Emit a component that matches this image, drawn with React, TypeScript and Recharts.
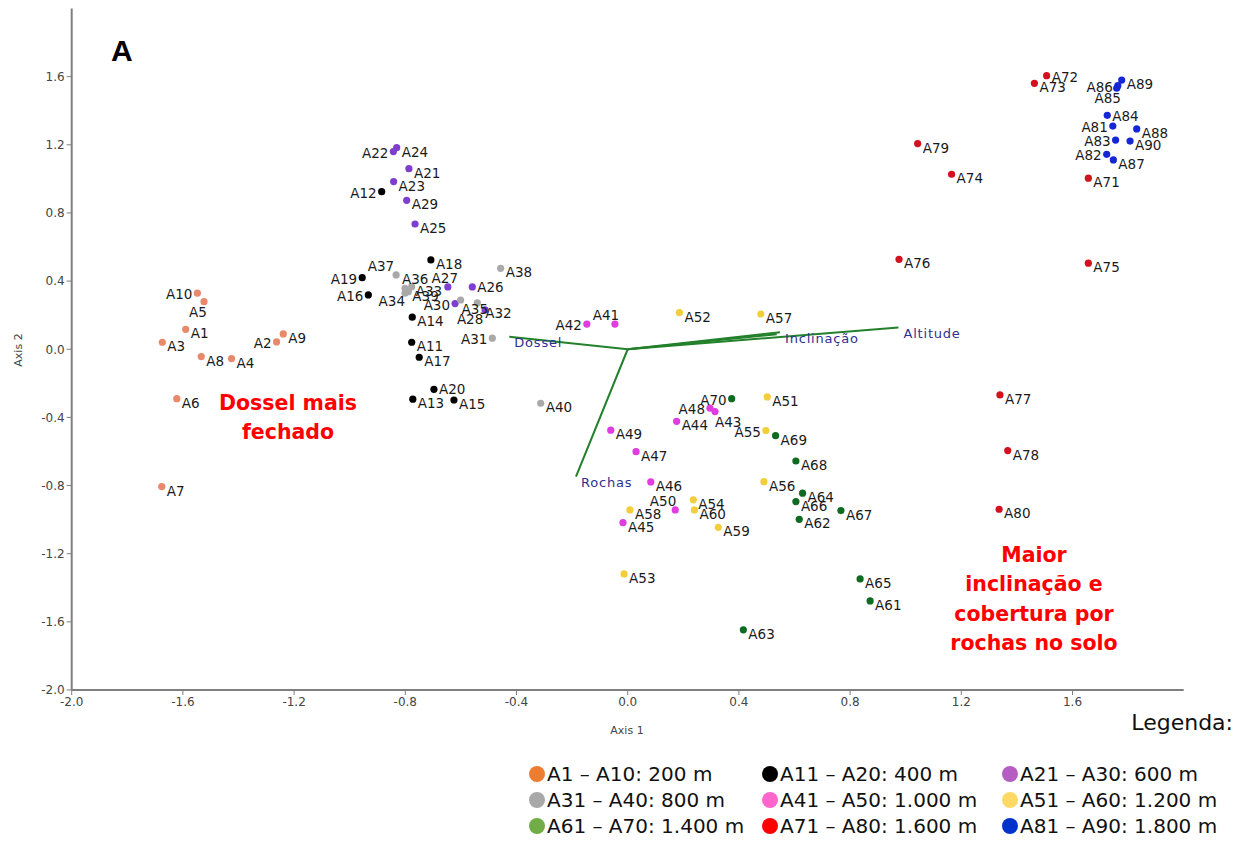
import React from 'react';
import { ScatterChart, Scatter, XAxis, YAxis, ReferenceLine } from 'recharts';

type Pt = { id: string; x: number; y: number };

const xTicks = [-2.0, -1.6, -1.2, -0.8, -0.4, 0.0, 0.4, 0.8, 1.2, 1.6];
const yTicks = [-2.0, -1.6, -1.2, -0.8, -0.4, 0.0, 0.4, 0.8, 1.2, 1.6];

const alt200: Pt[] = [
  { id: 'A1', x: -1.590, y: 0.117 }, { id: 'A2', x: -1.263, y: 0.043 },
  { id: 'A3', x: -1.674, y: 0.041 }, { id: 'A4', x: -1.425, y: -0.055 },
  { id: 'A5', x: -1.524, y: 0.279 }, { id: 'A6', x: -1.622, y: -0.290 },
  { id: 'A7', x: -1.676, y: -0.806 }, { id: 'A8', x: -1.534, y: -0.043 },
  { id: 'A9', x: -1.239, y: 0.090 }, { id: 'A10', x: -1.548, y: 0.329 },
];
const alt400: Pt[] = [
  { id: 'A11', x: -0.777, y: 0.041 }, { id: 'A12', x: -0.885, y: 0.925 },
  { id: 'A13', x: -0.773, y: -0.293 }, { id: 'A14', x: -0.775, y: 0.188 },
  { id: 'A15', x: -0.625, y: -0.298 }, { id: 'A16', x: -0.933, y: 0.319 },
  { id: 'A17', x: -0.750, y: -0.047 }, { id: 'A18', x: -0.708, y: 0.524 },
  { id: 'A19', x: -0.955, y: 0.420 }, { id: 'A20', x: -0.697, y: -0.235 },
];
const alt600: Pt[] = [
  { id: 'A21', x: -0.787, y: 1.060 }, { id: 'A22', x: -0.843, y: 1.160 },
  { id: 'A23', x: -0.842, y: 0.984 }, { id: 'A24', x: -0.831, y: 1.183 },
  { id: 'A25', x: -0.765, y: 0.735 }, { id: 'A26', x: -0.559, y: 0.366 },
  { id: 'A27', x: -0.647, y: 0.366 }, { id: 'A28', x: -0.513, y: 0.231 },
  { id: 'A29', x: -0.795, y: 0.874 }, { id: 'A30', x: -0.621, y: 0.268 },
];
const alt800: Pt[] = [
  { id: 'A31', x: -0.487, y: 0.065 }, { id: 'A32', x: -0.541, y: 0.273 },
  { id: 'A33', x: -0.777, y: 0.367 }, { id: 'A34', x: -0.801, y: 0.329 },
  { id: 'A35', x: -0.601, y: 0.289 }, { id: 'A36', x: -0.801, y: 0.358 },
  { id: 'A37', x: -0.833, y: 0.436 }, { id: 'A38', x: -0.457, y: 0.475 },
  { id: 'A39', x: -0.789, y: 0.338 }, { id: 'A40', x: -0.313, y: -0.317 },
];
const alt1000: Pt[] = [
  { id: 'A41', x: -0.046, y: 0.148 }, { id: 'A42', x: -0.147, y: 0.148 },
  { id: 'A43', x: 0.314, y: -0.366 }, { id: 'A44', x: 0.176, y: -0.423 },
  { id: 'A45', x: -0.017, y: -1.018 }, { id: 'A46', x: 0.083, y: -0.779 },
  { id: 'A47', x: 0.030, y: -0.601 }, { id: 'A48', x: 0.296, y: -0.346 },
  { id: 'A49', x: -0.061, y: -0.475 }, { id: 'A50', x: 0.171, y: -0.943 },
];
const alt1200: Pt[] = [
  { id: 'A51', x: 0.502, y: -0.280 }, { id: 'A52', x: 0.186, y: 0.215 },
  { id: 'A53', x: -0.013, y: -1.319 }, { id: 'A54', x: 0.236, y: -0.884 },
  { id: 'A55', x: 0.497, y: -0.477 }, { id: 'A56', x: 0.490, y: -0.777 },
  { id: 'A57', x: 0.479, y: 0.207 }, { id: 'A58', x: 0.008, y: -0.943 },
  { id: 'A59', x: 0.326, y: -1.045 }, { id: 'A60', x: 0.240, y: -0.943 },
];
const alt1400: Pt[] = [
  { id: 'A61', x: 0.872, y: -1.477 }, { id: 'A62', x: 0.617, y: -0.998 },
  { id: 'A63', x: 0.416, y: -1.647 }, { id: 'A64', x: 0.629, y: -0.845 },
  { id: 'A65', x: 0.836, y: -1.348 }, { id: 'A66', x: 0.605, y: -0.894 },
  { id: 'A67', x: 0.767, y: -0.947 }, { id: 'A68', x: 0.605, y: -0.656 },
  { id: 'A69', x: 0.532, y: -0.507 }, { id: 'A70', x: 0.374, y: -0.290 },
];
const alt1600: Pt[] = [
  { id: 'A71', x: 1.657, y: 1.004 }, { id: 'A72', x: 1.507, y: 1.606 },
  { id: 'A73', x: 1.463, y: 1.561 }, { id: 'A74', x: 1.165, y: 1.027 },
  { id: 'A75', x: 1.657, y: 0.505 }, { id: 'A76', x: 0.976, y: 0.528 },
  { id: 'A77', x: 1.339, y: -0.268 }, { id: 'A78', x: 1.367, y: -0.595 },
  { id: 'A79', x: 1.043, y: 1.207 }, { id: 'A80', x: 1.336, y: -0.939 },
];
const alt1800: Pt[] = [
  { id: 'A81', x: 1.745, y: 1.310 }, { id: 'A82', x: 1.723, y: 1.144 },
  { id: 'A83', x: 1.755, y: 1.228 }, { id: 'A84', x: 1.725, y: 1.373 },
  { id: 'A85', x: 1.759, y: 1.532 }, { id: 'A86', x: 1.763, y: 1.547 },
  { id: 'A87', x: 1.747, y: 1.111 }, { id: 'A88', x: 1.831, y: 1.293 },
  { id: 'A89', x: 1.777, y: 1.580 }, { id: 'A90', x: 1.807, y: 1.222 },
];

const vectors = [
  { id: 'Dossel', x: -0.426, y: 0.074 },
  { id: 'Rochas', x: -0.186, y: -0.748 },
  { id: 'Inclinação', x: 0.548, y: 0.100 },
  { id: '', x: 0.536, y: 0.088 },
  { id: 'Altitude', x: 0.974, y: 0.127 },
];

const legendLabels = [
  'A1 – A10: 200 m', 'A11 – A20: 400 m', 'A21 – A30: 600 m',
  'A31 – A40: 800 m', 'A41 – A50: 1.000 m', 'A51 – A60: 1.200 m',
  'A61 – A70: 1.400 m', 'A71 – A80: 1.600 m', 'A81 – A90: 1.800 m',
];

const pointColors = ['#E8896B', '#000000', '#7E3FCF', '#A9A9A9', '#E03CE0', '#F2CF3A', '#0F6B22', '#D3121F', '#1426D6'];
const legendColors = ['#ED7D31', '#000000', '#B55DC3', '#A8A8A8', '#FF66CC', '#FFD966', '#70AD47', '#FF0000', '#0033CC'];
const groups = [alt200, alt400, alt600, alt800, alt1000, alt1200, alt1400, alt1600, alt1800];

// label placement (layout only)
const leftLabels = ['A10', 'A2', 'A12', 'A19', 'A16', 'A22', 'A30', 'A31', 'A42', 'A48', 'A70', 'A55', 'A86', 'A81', 'A83', 'A82'];
const specialLabels: Record<string, [number, number, 'start' | 'middle' | 'end']> = {
  A5: [-6, 10, 'middle'], A27: [-3, -9, 'middle'], A37: [-2, -9, 'end'], A36: [-3, -9, 'start'],
  A34: [0, 8, 'end'], A28: [-15, 9, 'middle'], A35: [1, 9, 'start'], A32: [8, 10, 'start'],
  A41: [-9, -9, 'middle'], A43: [0, 10, 'start'], A50: [1, -9, 'end'], A85: [-9, 10, 'middle'],
  A20: [5, 0, 'start'], A26: [5, 0, 'start'], A33: [4, 4, 'start'], A39: [4, 4, 'start'],
  A72: [5, 1, 'start'], A84: [5, 1, 'start'],
};

const FONT = 'DejaVu Sans, sans-serif';

const placement = (id: string): [number, number, 'start' | 'middle' | 'end'] => {
  if (specialLabels[id]) return specialLabels[id];
  if (leftLabels.includes(id)) return [-5, 1, 'end'];
  return [5, 4, 'start'];
};

const makeShape = (color: string) => (props: any) => {
  const { cx, cy, payload } = props;
  const [dx, dy, anchor] = placement(payload.id);
  return (
    <g>
      <circle cx={cx} cy={cy} r={3.6} fill={color} />
      <text x={cx + dx} y={cy + dy} textAnchor={anchor} dominantBaseline="central"
        fontSize={13.5} fontFamily={FONT} fill="#1a1a1a">{payload.id}</text>
    </g>
  );
};

const vectorLabel = (props: any) => {
  const { cx, cy, payload } = props;
  if (!payload.id) return <g />;
  return (
    <text x={cx + 5} y={cy + 6} dominantBaseline="central" fontSize={13} letterSpacing={0.8}
      fontFamily={FONT} fill="#2E3192">{payload.id}</text>
  );
};

const fmt = (v: number) => v.toFixed(1);

export default function App() {
  return (
    <div style={{ position: 'absolute', left: 0, top: 0, width: 1247, height: 841, background: '#fff' }}>
      <ScatterChart width={1247} height={841} margin={{ top: 8.5, right: 63.3, left: 21.7, bottom: 121 }}>
        <XAxis type="number" dataKey="x" domain={[-2, 2]} ticks={xTicks} tickFormatter={fmt}
          axisLine={{ stroke: '#7f7f7f', strokeWidth: 2 }} tickLine={{ stroke: '#7f7f7f' }} tickSize={5}
          height={30} tick={{ fontSize: 12, fontFamily: FONT, fill: '#444' }} allowDataOverflow />
        <YAxis type="number" dataKey="y" domain={[-2, 2]} ticks={yTicks} tickFormatter={fmt}
          axisLine={{ stroke: '#7f7f7f', strokeWidth: 2 }} tickLine={{ stroke: '#7f7f7f' }} tickSize={5}
          width={50} tick={{ fontSize: 12, fontFamily: FONT, fill: '#444' }} allowDataOverflow />
        {vectors.map((v, i) => (
          <ReferenceLine key={'v' + i} segment={[{ x: 0, y: 0 }, { x: v.x, y: v.y }]}
            stroke="#23802B" strokeWidth={2} ifOverflow="visible" />
        ))}
        <Scatter data={vectors} isAnimationActive={false} shape={vectorLabel} />
        {groups.map((g, i) => (
          <Scatter key={i} data={g} fill={pointColors[i]} isAnimationActive={false} shape={makeShape(pointColors[i])} />
        ))}
      </ScatterChart>
      <svg width={1247} height={841} style={{ position: 'absolute', left: 0, top: 0, pointerEvents: 'none' }}>
        <text x={111} y={61} fontSize={30} fontWeight="bold" fontFamily="Liberation Sans, Arial, sans-serif" fill="#000">A</text>
        <text x={627} y={734} textAnchor="middle" fontSize={11} fontFamily={FONT} fill="#444">Axis 1</text>
        <text x={22} y={350} textAnchor="middle" fontSize={11} fontFamily={FONT} fill="#444" transform="rotate(-90 22 350)">Axis 2</text>
        <g fontFamily={FONT} fontWeight="bold" fontSize={20.5} fill="#FF0000" textAnchor="middle">
          <text x={288} y={410}>Dossel mais</text>
          <text x={288} y={439}>fechado</text>
          <text x={1034} y={562}>Maior</text>
          <text x={1034} y={591}>inclinação e</text>
          <text x={1034} y={621}>cobertura por</text>
          <text x={1034} y={650}>rochas no solo</text>
        </g>
        <text x={1233} y={730} textAnchor="end" fontSize={22} fontFamily={FONT} fill="#111">Legenda:</text>
        {legendLabels.map((lab, i) => {
          const col = i % 3;
          const row = Math.floor(i / 3);
          const cxs = [537, 770, 1010];
          const cy = 774 + row * 26;
          return (
            <g key={lab}>
              <circle cx={cxs[col]} cy={cy} r={8} fill={legendColors[i]} />
              <text x={cxs[col] + 10} y={cy + 7} fontSize={20} fontFamily={FONT} fill="#111">{lab}</text>
            </g>
          );
        })}
      </svg>
    </div>
  );
}
